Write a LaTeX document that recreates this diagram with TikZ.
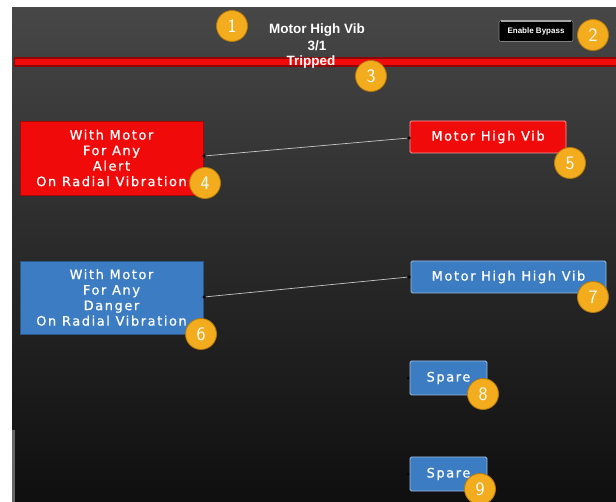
\documentclass[tikz,border=0pt]{standalone}
\usepackage{fontspec}
\setmainfont{Liberation Sans}
\newfontfamily\boxfont[LetterSpace=12,FakeBold=0.6]{DejaVu Sans}
\usetikzlibrary{shadings}
\definecolor{panelTop}{HTML}{474747}
\definecolor{panelMid}{HTML}{2A2A2A}
\definecolor{panelBot}{HTML}{0F0F0F}
\definecolor{alarmRed}{HTML}{F00A0A}
\definecolor{tileBlue}{HTML}{3C7CC2}
\definecolor{badgeFill}{HTML}{F2AC1E}
\definecolor{badgeEdge}{HTML}{B67A0C}
\definecolor{wireGray}{HTML}{C8C8C8}
\tikzset{
  badge/.style={circle, minimum size=31pt, inner sep=0pt, fill=badgeFill,
    draw=badgeEdge, line width=0.8pt, text=white, font=\sffamily\fontsize{19}{19}\selectfont},
  redtile/.style={fill=alarmRed, draw=alarmRed!70!black, line width=0.6pt, text=white,
    align=center, inner sep=0pt, font=\boxfont\fontsize{13}{15.5}\selectfont},
  bluetile/.style={fill=tileBlue, draw=tileBlue!70!black, line width=0.6pt, text=white,
    align=center, inner sep=0pt, font=\boxfont\fontsize{13}{15.5}\selectfont},
  outtile/.style={rounded corners=1.5pt, line width=0.9pt, text=white, inner sep=0pt,
    font=\boxfont\fontsize{13}{14}\selectfont},
  pin/.style={circle, fill=black, inner sep=0pt, minimum size=3.5pt},
  wire/.style={wireGray, line width=0.7pt},
  hdr/.style={text=white, font=\bfseries\fontsize{13.5}{14}\selectfont, inner sep=0pt}
}
\begin{document}
\begin{tikzpicture}[x=1pt,y=-1pt]
\useasboundingbox (0,0) rectangle (616,502);
\fill[white] (0,0) rectangle (616,502);
% dark panel background
\shade[top color=panelTop, bottom color=panelMid] (12,8) rectangle (616,250);
\shade[top color=panelMid, bottom color=panelBot] (12,250) rectangle (616,502);
\fill[black!60] (12,430) rectangle (15,502);

% status bar
\fill[alarmRed!60!black] (14,57) rectangle (616,67);
\fill[alarmRed] (15,59) rectangle (616,65);

\node[hdr] (title) at (317,30) {Motor High Vib};
\node[hdr] (ratio) at (317,46) {3/1};
\node[hdr] (state) at (311,62) {Tripped};

% bypass button
\node[rounded corners=2pt, fill=black, draw=black!50, line width=0.6pt,
  minimum width=74pt, minimum height=21pt, inner sep=0pt, text=white,
  font=\bfseries\fontsize{8}{8}\selectfont] (bypass) at (536,31) {Enable Bypass};
\draw[black!35, line width=1.5pt] ([xshift=2pt,yshift=-1pt]bypass.north west) -- ([xshift=-2pt,yshift=-1pt]bypass.north east);

% input tiles
\node[redtile, minimum width=183pt, minimum height=74pt] (alert) at (111.5,158)
  {With Motor\\For Any\\Alert\\On Radial Vibration};
\node[bluetile, minimum width=183pt, minimum height=73pt] (danger) at (111.5,297.5)
  {With Motor\\For Any\\Danger\\On Radial Vibration};

% output tiles
\node[outtile, fill=alarmRed, draw=red!40!white, minimum width=156pt, minimum height=32pt] (hivib) at (488,137) {Motor High Vib};
\node[outtile, fill=tileBlue, draw=tileBlue!50!white, minimum width=195pt, minimum height=32pt] (hihivib) at (508.5,277) {Motor High High Vib};
\node[outtile, fill=tileBlue, draw=tileBlue!50!white, minimum width=77pt, minimum height=34pt] (spareA) at (448.5,378) {Spare};
\node[outtile, fill=tileBlue, draw=tileBlue!50!white, minimum width=77pt, minimum height=34pt] (spareB) at (448.5,474) {Spare};

% connection pins
\node[pin] (pa) at (204,156) {};
\node[pin] (pb) at (409,138) {};
\node[pin] (pc) at (204,297) {};
\node[pin] (pd) at (409,277) {};
\node[pin, minimum size=2.5pt] (pe) at (408,378) {};
\node[pin, minimum size=2.5pt] (pf) at (408,474) {};
\draw[wire] (pa) -- (pb);
\draw[wire] (pc) -- (pd);

% numbered callouts
\node[badge] (b1) at (232,26) {1};
\node[badge] (b2) at (593,35) {2};
\node[badge] (b3) at (371,76) {3};
\node[badge] (b4) at (205,183) {4};
\node[badge] (b5) at (570,163) {5};
\node[badge] (b6) at (201,334) {6};
\node[badge] (b7) at (593,297) {7};
\node[badge] (b8) at (483,394) {8};
\node[badge] (b9) at (480,489) {9};
\end{tikzpicture}
\end{document}
